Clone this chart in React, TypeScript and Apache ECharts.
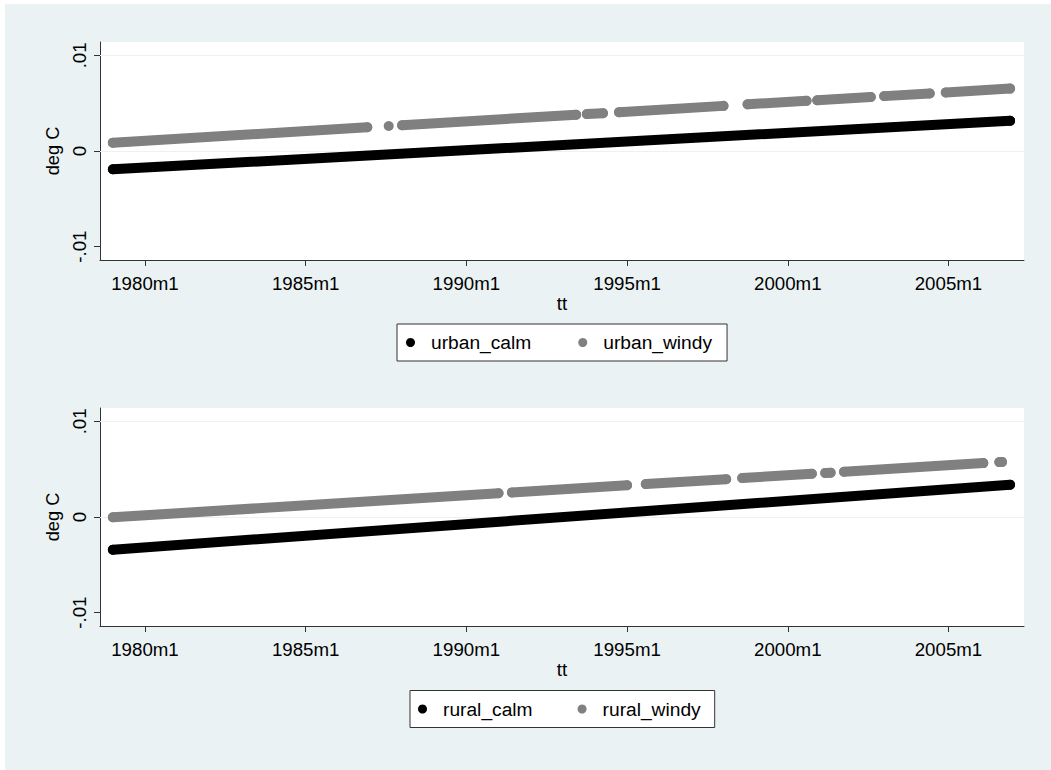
import React, { useEffect, useRef } from "react";
import * as echarts from "echarts";

// Stata monthly dates: 1980m1 = 240
const xTickMonths = [240, 300, 360, 420, 480, 540];
const yTickValues = [-0.01, 0, 0.01];
const gridLineValues = [0.01, 0];

// [month, deg C] — calm series are continuous bands
const urbanCalm: number[][] = [
  [228, -0.00191],
  [563, 0.00316],
];
const ruralCalm: number[][] = [
  [228, -0.00342],
  [563, 0.00338],
];

// windy series: runs of consecutive months, separated by visible gaps
const urbanWindy: number[][][] = [
  [[228, 0.00087], [323, 0.00248]],
  [[331, 0.00261]],
  [[336, 0.0027], [401, 0.00379]],
  [[405, 0.00386], [411, 0.00396]],
  [[417, 0.00406], [456, 0.00472]],
  [[465, 0.00488], [487, 0.00525]],
  [[491, 0.00531], [511, 0.00565]],
  [[516, 0.00574], [533, 0.00602]],
  [[539, 0.00613], [563, 0.00653]],
];
const ruralWindy: number[][][] = [
  [[228, -0.00003], [372, 0.00248]],
  [[377, 0.00257], [420, 0.00332]],
  [[427, 0.00344], [457, 0.00396]],
  [[463, 0.00407], [489, 0.00452]],
  [[494, 0.00461], [496, 0.00464]],
  [[501, 0.00473], [553, 0.00564]],
  [[559, 0.00574], [560, 0.00576]],
];

const panels = [
  { calm: "urban_calm", windy: "urban_windy", calmData: urbanCalm, windyData: urbanWindy },
  { calm: "rural_calm", windy: "rural_windy", calmData: ruralCalm, windyData: ruralWindy },
];

const FONT = "'Liberation Sans', Arial, Helvetica, sans-serif";
const BG = "#EAF2F3";
const AXIS = "#333333";
const GRAY = "#808080";

function joinSegments(segs: number[][][]): (number | string)[][] {
  const out: (number | string)[][] = [];
  segs.forEach((s, i) => {
    if (i > 0) {
      const prev = segs[i - 1][segs[i - 1].length - 1][0];
      out.push([(prev + s[0][0]) / 2, "-"]);
    }
    s.forEach((p) => out.push(p));
  });
  return out;
}

function monthLabel(v: number): string {
  const y = 1960 + Math.floor(v / 12);
  const m = (v % 12) + 1;
  return `${y}m${m}`;
}

export default function App() {
  const ref = useRef<HTMLDivElement>(null);

  useEffect(() => {
    document.body.style.margin = "0";
    document.body.style.overflow = "hidden";
    if (!ref.current) return;
    const chart = echarts.init(ref.current, undefined, { renderer: "svg" });

    const gridTops = [38, 404];
    const legendPos = [
      { left: 392, top: 320, gap: 47, pad: [9, 15, 9, 9] },
      { left: 405, top: 686.5, gap: 45, pad: [9, 14, 9, 8] },
    ];

    const option: any = {
      animation: false,
      backgroundColor: BG,
      grid: gridTops.map((t) => ({
        left: 95,
        top: t,
        width: 924,
        height: 218,
        show: true,
        backgroundColor: "#ffffff",
        borderWidth: 0,
      })),
      xAxis: gridTops.map((_, i) => ({
        type: "value",
        gridIndex: i,
        min: 223.2,
        max: 568.2,
        name: "tt",
        nameLocation: "middle",
        nameGap: 34,
        nameTextStyle: { fontSize: 18.7, color: "#000", fontFamily: FONT },
        axisLine: { show: true, onZero: false, lineStyle: { color: AXIS, width: 1 } },
        axisTick: { show: true, length: 6, customValues: xTickMonths, lineStyle: { color: AXIS, width: 1 } },
        axisLabel: {
          customValues: xTickMonths,
          formatter: (v: number) => monthLabel(v),
          margin: 14,
          fontSize: 18.7,
          color: "#000",
          fontFamily: FONT,
        },
        splitLine: { show: false },
      })),
      yAxis: gridTops.map((_, i) => ({
        type: "value",
        gridIndex: i,
        min: -0.0114,
        max: 0.0114,
        name: "deg C",
        nameLocation: "middle",
        nameRotate: 90,
        nameGap: 36,
        nameTextStyle: { fontSize: 18.2, color: "#000", fontFamily: FONT },
        axisLine: { show: true, onZero: false, lineStyle: { color: AXIS, width: 1 } },
        axisTick: { show: true, length: 6, customValues: yTickValues, lineStyle: { color: AXIS, width: 1 } },
        axisLabel: {
          customValues: yTickValues,
          rotate: 90,
          margin: 11,
          formatter: (v: number) => (v === 0 ? "0" : v > 0 ? ".01" : "-.01"),
          fontSize: 18.7,
          color: "#000",
          fontFamily: FONT,
        },
        splitLine: { show: false },
      })),
      legend: panels.map((p, i) => ({
        data: [p.calm, p.windy],
        left: legendPos[i].left,
        top: legendPos[i].top,
        orient: "horizontal",
        selectedMode: false,
        backgroundColor: "#ffffff",
        borderColor: AXIS,
        borderWidth: 1,
        borderRadius: 0,
        padding: legendPos[i].pad,
        itemGap: legendPos[i].gap,
        icon: "circle",
        itemWidth: 9,
        itemHeight: 9,
        itemStyle: { borderWidth: 0 },
        formatter: "{a|{name}}",
        textStyle: {
          fontSize: 19.2,
          color: "#000",
          fontFamily: FONT,
          rich: { a: { padding: [0, 0, 0, 11], fontSize: 19.2, lineHeight: 19, color: "#000", fontFamily: FONT } },
        },
      })),
      series: panels.flatMap((p, i) => [
        {
          type: "line",
          name: p.calm,
          xAxisIndex: i,
          yAxisIndex: i,
          data: p.calmData,
          symbol: "circle",
          symbolSize: 10,
          showSymbol: true,
          showAllSymbol: true,
          z: 3,
          itemStyle: { color: "#000000", borderWidth: 0 },
          lineStyle: { color: "#000000", width: 10, cap: "round", join: "round" },
          emphasis: { disabled: true },
          markLine: {
            silent: true,
            z: 1,
            symbol: ["none", "none"],
            label: { show: false },
            lineStyle: { color: BG, width: 1, type: "solid" },
            emphasis: { disabled: true },
            data: gridLineValues.map((v) => ({ yAxis: v })),
          },
        },
        {
          type: "line",
          name: p.windy,
          xAxisIndex: i,
          yAxisIndex: i,
          data: joinSegments(p.windyData),
          connectNulls: false,
          symbol: "circle",
          symbolSize: 10,
          showSymbol: true,
          showAllSymbol: true,
          z: 3,
          itemStyle: { color: GRAY, borderWidth: 0 },
          lineStyle: { color: GRAY, width: 10, cap: "round", join: "round" },
          emphasis: { disabled: true },
        },
      ]),
    };

    chart.setOption(option);
    return () => chart.dispose();
  }, []);

  return (
    <div style={{ position: "absolute", left: 0, top: 0, width: 1051, height: 770, background: "#ffffff" }}>
      <div ref={ref} style={{ position: "absolute", left: 5, top: 4, width: 1046, height: 766 }} />
    </div>
  );
}
